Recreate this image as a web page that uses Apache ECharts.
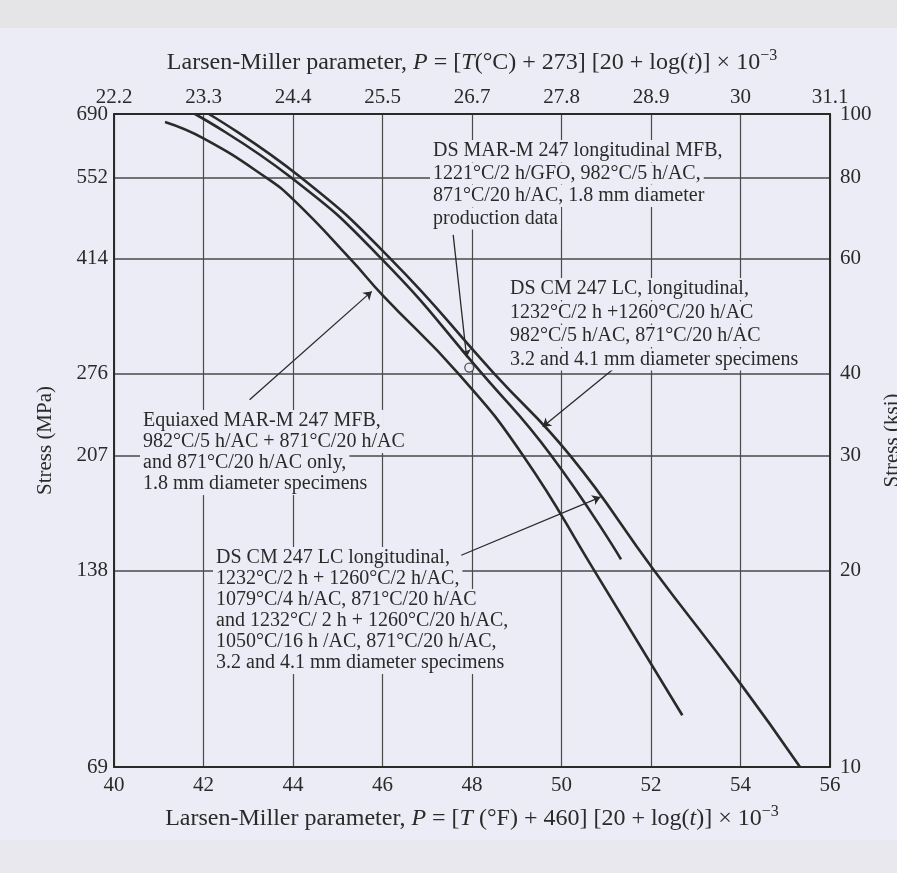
<!DOCTYPE html>
<html>
<head>
<meta charset="utf-8">
<script src="https://cdn.jsdelivr.net/npm/echarts@6/dist/echarts.min.js"></script>
<style>
html,body{margin:0;padding:0;background:#ececf6;}
#c{width:897px;height:873px;}
</style>
</head>
<body>
<div id="c"></div>
<script>
// ---------- data ----------
const bottomTickMin = 40, bottomTickMax = 56, bottomTickStep = 2;
const topTickLabels = ['22.2','23.3','24.4','25.5','26.7','27.8','28.9','30','31.1'];
const mpaTicks = [69,138,207,276,414,552,690];
const ksiTicks = [10,20,30,40,60,80,100];

// Equiaxed MAR-M 247 MFB
const equiaxedP   = [41.14, 42.02, 43.39, 44.02, 45.28, 46.0, 47.70, 49.14, 50.73, 52.70];
const equiaxedKsi = [97.2, 91.6, 80, 73.8, 60, 52.8, 40, 30, 20, 12.0];
// DS MAR-M 247 longitudinal MFB
const dsMarP   = [41.81, 43.95, 45.98, 48.23, 49.77, 51.33];
const dsMarKsi = [100, 80, 60, 40, 30, 20.8];
// DS CM 247 LC longitudinal
const cm247P   = [42.12, 44.17, 46.18, 48.50, 50.19, 52.07, 53.97, 55.33];
const cm247Ksi = [100, 80, 60, 40, 30, 20, 13.5, 10];
// production data point
const prodP = [47.94];
const prodKsi = [40.9];

// annotation texts
const noteMarM = ['DS MAR-M 247 longitudinal MFB,', '1221°C/2 h/GFO, 982°C/5 h/AC,', '871°C/20 h/AC, 1.8 mm diameter', 'production data'];
const noteCm20 = ['DS CM 247 LC, longitudinal,', '1232°C/2 h +1260°C/20 h/AC', '982°C/5 h/AC, 871°C/20 h/AC', '3.2 and 4.1 mm diameter specimens'];
const noteEquiaxed = ['Equiaxed MAR-M 247 MFB,', '982°C/5 h/AC + 871°C/20 h/AC', 'and 871°C/20 h/AC only,', '1.8 mm diameter specimens'];
const noteCm2 = ['DS CM 247 LC longitudinal,', '1232°C/2 h + 1260°C/2 h/AC,', '1079°C/4 h/AC, 871°C/20 h/AC', 'and 1232°C/ 2 h + 1260°C/20 h/AC,', '1050°C/16 h /AC, 871°C/20 h/AC,', '3.2 and 4.1 mm diameter specimens'];

// arrow endpoints (P, ksi): [tail, head]
const arrowMarM = [[47.58, 65.3], [47.88, 42.4]];
const arrowCm20 = [[51.18, 40.8], [49.58, 33.2]];
const arrowEquiaxed = [[43.03, 36.5], [45.76, 53.5]];
const arrowCm2 = [[47.76, 21.1], [50.87, 25.9]];

// ---------- chart ----------
const zip = (xs, ys) => xs.map((x, i) => [x, ys[i]]);
const serif = "'Liberation Serif', 'DejaVu Serif', serif";
const ink = '#2a2a2a';
const gridInk = '#4a4a4a';
const bg = '#ececf6';
const titleRich = {
  i: { fontStyle: 'italic', fontFamily: serif, fontSize: 24, color: ink, lineHeight: 29 },
  sup: { fontFamily: serif, fontSize: 16, color: ink, lineHeight: 16, verticalAlign: 'top' }
};

function noteLines(lines, x, y0, dy) {
  return lines.map((t, i) => ({
    type: 'text', x: x - 3, y: y0 + i * dy, z: 20,
    style: { text: t, font: '20px ' + serif, fill: ink, backgroundColor: bg,
             padding: [1, 3], verticalAlign: 'middle', align: 'left' }
  }));
}

const chart = echarts.init(document.getElementById('c'));
const option = {
  animation: false,
  backgroundColor: bg,
  grid: { left: 114, right: 67, top: 114, bottom: 106, outerBoundsMode: 'none', containLabel: false },
  xAxis: [
    {
      type: 'value', position: 'bottom', min: bottomTickMin, max: bottomTickMax, interval: bottomTickStep,
      axisLine: { show: true, onZero: false, lineStyle: { color: ink, width: 2 } },
      axisTick: { show: false },
      axisLabel: { margin: 8, fontFamily: serif, fontSize: 21, color: ink },
      splitLine: { show: true, lineStyle: { color: gridInk, width: 1.2 } },
      name: 'Larsen-Miller parameter, {i|P} = [{i|T} (°F) + 460] [20 + log({i|t})] × 10{sup|−3}',
      nameLocation: 'middle', nameGap: 37,
      nameTextStyle: { fontFamily: serif, fontSize: 24, color: ink, lineHeight: 29, rich: titleRich }
    },
    {
      type: 'value', position: 'top', min: bottomTickMin, max: bottomTickMax, interval: bottomTickStep,
      axisLine: { show: true, onZero: false, lineStyle: { color: ink, width: 2 } },
      axisTick: { show: false },
      axisLabel: { margin: 6, fontFamily: serif, fontSize: 21, color: ink,
        formatter: v => topTickLabels[Math.round((v - bottomTickMin) / bottomTickStep)] },
      splitLine: { show: false },
      name: 'Larsen-Miller parameter, {i|P} = [{i|T}(°C) + 273] [20 + log({i|t})] × 10{sup|−3}',
      nameLocation: 'middle', nameGap: 37,
      nameTextStyle: { fontFamily: serif, fontSize: 24, color: ink, lineHeight: 29, rich: titleRich }
    }
  ],
  yAxis: [
    {
      type: 'log', logBase: 10, position: 'left', min: 69, max: 690,
      axisLine: { show: true, onZero: false, lineStyle: { color: ink, width: 2 } },
      axisTick: { show: false, customValues: mpaTicks },
      axisLabel: { margin: 6, fontFamily: serif, fontSize: 21, color: ink, customValues: mpaTicks,
        formatter: v => String(Math.round(v)) },
      splitLine: { show: false },
      minorTick: { show: false }, minorSplitLine: { show: false },
      name: 'Stress (MPa)', nameLocation: 'middle', nameGap: 58, nameRotate: 90,
      nameTextStyle: { fontFamily: serif, fontSize: 21, color: ink }
    },
    {
      type: 'log', logBase: 10, position: 'right', min: 10, max: 100,
      axisLine: { show: true, onZero: false, lineStyle: { color: ink, width: 2 } },
      axisTick: { show: false, customValues: ksiTicks },
      axisLabel: { margin: 10, fontFamily: serif, fontSize: 21, color: ink, customValues: ksiTicks,
        formatter: v => String(Math.round(v)) },
      splitLine: { show: true, lineStyle: { color: gridInk, width: 1.5 } },
      minorTick: { show: false }, minorSplitLine: { show: false },
      name: 'Stress (ksi)', nameLocation: 'middle', nameGap: 47, nameRotate: 90,
      nameTextStyle: { fontFamily: serif, fontSize: 21, color: ink }
    }
  ],
  series: [
    { name: 'Equiaxed', type: 'line', xAxisIndex: 0, yAxisIndex: 1, data: zip(equiaxedP, equiaxedKsi),
      smooth: 0.5, symbol: 'none', lineStyle: { color: ink, width: 2.6 }, z: 5 },
    { name: 'DS MAR-M 247', type: 'line', xAxisIndex: 0, yAxisIndex: 1, data: zip(dsMarP, dsMarKsi),
      smooth: 0.5, symbol: 'none', lineStyle: { color: ink, width: 2.6 }, z: 5 },
    { name: 'DS CM 247 LC', type: 'line', xAxisIndex: 0, yAxisIndex: 1, data: zip(cm247P, cm247Ksi),
      smooth: 0.5, symbol: 'none', lineStyle: { color: ink, width: 2.6 }, z: 5 },
    { name: 'production data', type: 'scatter', xAxisIndex: 0, yAxisIndex: 1, data: zip(prodP, prodKsi),
      symbol: 'circle', symbolSize: 9, z: 6,
      itemStyle: { color: bg, borderColor: ink, borderWidth: 1.3 },
      markLine: {
        silent: true, symbol: ['none', 'arrow'], symbolSize: 8,
        label: { show: false },
        lineStyle: { type: 'solid', color: ink, width: 1.3 },
        data: [arrowMarM, arrowCm20, arrowEquiaxed, arrowCm2].map(a => [{ coord: a[0] }, { coord: a[1] }])
      }
    }
  ],
  graphic: [
    { type: 'rect', shape: { x: 0, y: 0, width: 897, height: 28 }, style: { fill: '#e5e5e7' }, z: -5, silent: true },
    { type: 'rect', shape: { x: 0, y: 840, width: 897, height: 33 }, style: { fill: '#e8e8ee' }, z: -5, silent: true },
    ...noteLines(noteMarM, 433, 151, 22.5),
    ...noteLines(noteCm20, 510, 289, 23.5),
    ...noteLines(noteEquiaxed, 143, 421, 21),
    ...noteLines(noteCm2, 216, 558, 21)
  ]
};
chart.setOption(option);
</script>
</body>
</html>
